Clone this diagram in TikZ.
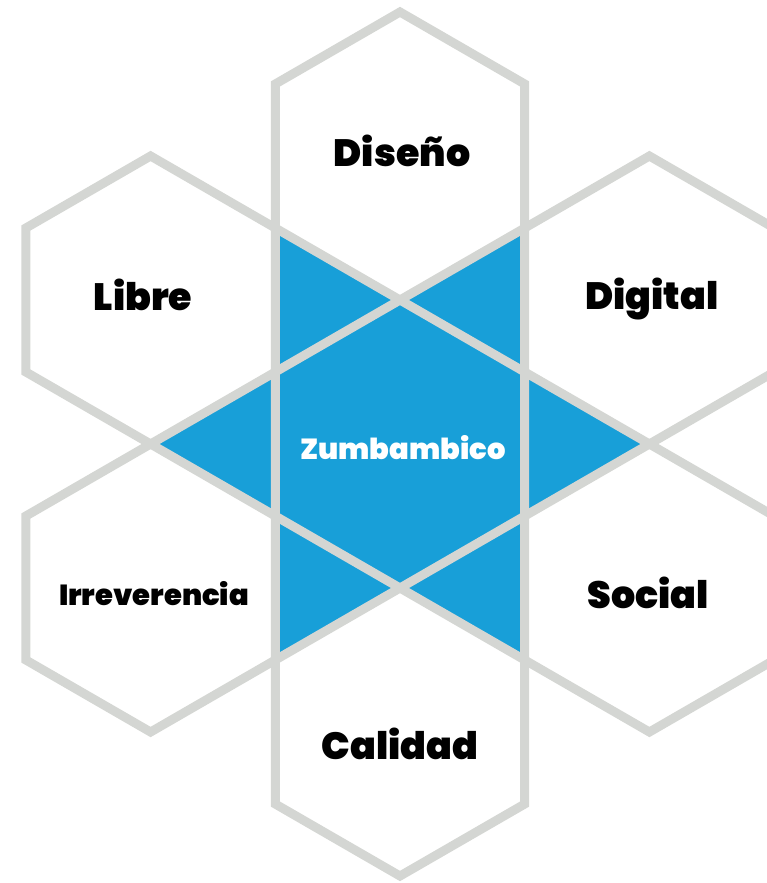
\documentclass[tikz,border=0pt]{standalone}
\usepackage{fontspec}
\setmainfont{Poppins}[BoldFont={Poppins Black}]
\usepackage{xcolor}
\usepackage{tikz}
\usetikzlibrary{positioning}

\definecolor{hexgray}{HTML}{D4D6D3}
\definecolor{zblue}{HTML}{189FD8}

\begin{document}
\begin{tikzpicture}[x=1pt, y=-1pt, line join=miter,
    hexline/.style={draw=hexgray, line width=9pt},
    biglabel/.style={font=\fontsize{38}{38}\selectfont\bfseries, text=black},
    smalllabel/.style={font=\fontsize{29}{29}\selectfont\bfseries, text=black}]
  \def\s{144}   % hexagon side
  \def\cx{400}  % centre of the middle hexagon
  \def\cy{444}

  \useasboundingbox (0,0) rectangle (767,883);
  \clip (0,0) rectangle (767,883);

  % Blue star behind the grid
  \fill[zblue, shift={(\cx,\cy)}] (0:249.4) -- (120:249.4) -- (240:249.4) -- cycle;
  \fill[zblue, shift={(\cx,\cy)}] (60:249.4) -- (180:249.4) -- (300:249.4) -- cycle;

  % Six outer hexagons plus the middle one
  \foreach \a/\d in {0/0, 90/288, 150/288, 210/288, 270/288, 330/288, 30/288} {
    \draw[hexline, shift={(\cx,\cy)}, shift={(\a:\d)}]
      (90:\s) -- (150:\s) -- (210:\s) -- (270:\s) -- (330:\s) -- (30:\s) -- cycle;
  }

  % Labels
  \node[biglabel] (diseno) at (402,151) {Diseño};
  \node[biglabel] (libre) at (143,295) {Libre};
  \node[biglabel] (digital) at (652,299) {Digital};
  \node[smalllabel, text=white] (zumba) at (403,448) {Zumbambico};
  \node[smalllabel] (irrev) at (154,594) {Irreverencia};
  \node[biglabel] (social) at (648,593) {Social};
  \node[biglabel] (calidad) at (400,744) {Calidad};
\end{tikzpicture}
\end{document}
